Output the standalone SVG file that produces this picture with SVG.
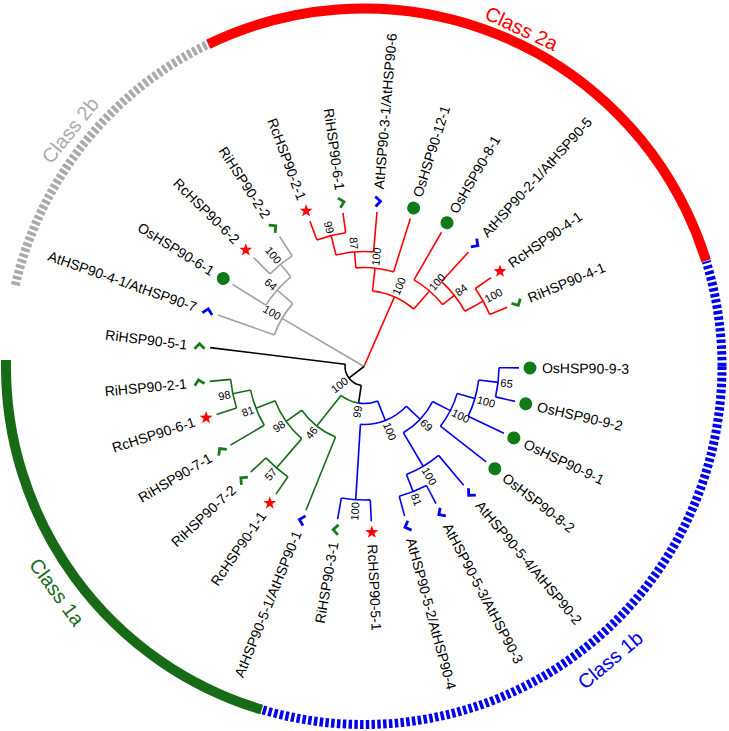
<svg xmlns="http://www.w3.org/2000/svg" width="729" height="731" viewBox="0 0 729 731">
<style>
text{font-family:"Liberation Sans",Arial,sans-serif}
.lf{font-size:14px;fill:#000}
.bs{font-size:11px;fill:#000}
.cl{font-size:20px}
.e path,.e circle{fill:none;stroke-width:1.6}
.R{stroke:#f00}.G{stroke:#a0a0a0}.K{stroke:#000}.N{stroke:#176b17}.B{stroke:#0000ee}
.mk{fill:none;stroke-width:2.8}
.ri{stroke:#1a7a1a}.at{stroke:#0000ee}
.os{fill:#107a18}.rc{fill:#f00}
</style>
<defs>
<path id="chev" d="M4.4 -3L0 2.6L-5.6 -1.8"/>
<path id="star" d="M0,-6.8 L1.6,-2.2 L6.47,-2.1 L2.58,0.84 L4,5.5 L0,2.72 L-4,5.5 L-2.58,0.84 L-6.47,-2.1 L-1.6,-2.2 Z"/>
<mask id="mgray" maskUnits="userSpaceOnUse" x="-400" y="-400" width="800" height="800">
<circle r="358" fill="none" stroke="#fff" stroke-width="24" stroke-dasharray="319.9 3000" transform="rotate(193)"/>
</mask>
<mask id="mblue" maskUnits="userSpaceOnUse" x="-400" y="-400" width="800" height="800">
<circle r="358" fill="none" stroke="#fff" stroke-width="24" stroke-dasharray="772.9 3000" transform="rotate(342.9)"/>
</mask>
</defs>
<rect width="729" height="731" fill="#fff"/>

<g id="class-arcs" transform="translate(364 366.5)" fill="none">
<circle r="358" stroke="#f00" stroke-width="10" stroke-dasharray="616 3000" transform="rotate(244.2)"/>
<circle r="358" stroke="#176b17" stroke-width="10" stroke-dasharray="464.87 3000" transform="rotate(106.6)"/>
<circle r="358" stroke="#aaaaaa" stroke-width="9" stroke-dasharray="3.5 2.3" mask="url(#mgray)"/>
<circle r="358" stroke="#0000ee" stroke-width="9" stroke-dasharray="3.5 2.3" mask="url(#mblue)"/>
<text class="cl" fill="#f00" text-anchor="middle" transform="rotate(25)" y="-366" font-size="19">Class 2a</text>
<text class="cl" fill="#aaaaaa" text-anchor="middle" transform="rotate(308.8)" y="-370">Class 2b</text>
<text class="cl" fill="#176b17" text-anchor="middle" transform="rotate(53.7)" y="388">Class 1a</text>
<text class="cl" fill="#0000ee" text-anchor="middle" transform="rotate(-40)" y="390">Class 1b</text>
</g>

<g id="connectors" class="e" transform="translate(364 366.5)">
<g class="R">
<path d="M0 0H76" transform="rotate(293.6)"/>
<circle r="76" stroke-dasharray="45.76 3000" transform="rotate(276.4)"/>
<path d="M76 0H99" transform="rotate(276.4)"/>
<path d="M76 0H100" transform="rotate(310.9)"/>
<circle r="99" stroke-dasharray="38.19 3000" transform="rotate(265.3)"/>
<path d="M99 0H115" transform="rotate(265.3)"/>
<path d="M99 0H155" transform="rotate(287.4)"/>
<circle r="115" stroke-dasharray="37.93 3000" transform="rotate(255.9)"/>
<path d="M115 0H135" transform="rotate(255.9)"/>
<path d="M115 0H155" transform="rotate(274.8)"/>
<circle r="135" stroke-dasharray="29.69 3000" transform="rotate(249.6)"/>
<path d="M135 0H155" transform="rotate(249.6)"/>
<path d="M135 0H155" transform="rotate(262.2)"/>
<circle r="100" stroke-dasharray="38.05 3000" transform="rotate(300)"/>
<path d="M100 0H155" transform="rotate(300)"/>
<path d="M100 0H115" transform="rotate(321.8)"/>
<circle r="115" stroke-dasharray="37.83 3000" transform="rotate(312.4)"/>
<path d="M115 0H155" transform="rotate(312.4)"/>
<path d="M115 0H136" transform="rotate(331.25)"/>
<circle r="136" stroke-dasharray="29.67 3000" transform="rotate(325)"/>
<path d="M136 0H155" transform="rotate(325)"/>
<path d="M136 0H155" transform="rotate(337.5)"/>
</g>
<g class="G">
<path d="M0 0H95" transform="rotate(210.4)"/>
<circle r="95" stroke-dasharray="36.48 3000" transform="rotate(199.4)"/>
<path d="M95 0H155" transform="rotate(199.4)"/>
<path d="M95 0H115.7" transform="rotate(221.4)"/>
<circle r="115.7" stroke-dasharray="37.96 3000" transform="rotate(212)"/>
<path d="M115.7 0H155" transform="rotate(212)"/>
<path d="M115.7 0H132" transform="rotate(230.8)"/>
<circle r="132" stroke-dasharray="28.57 3000" transform="rotate(224.6)"/>
<path d="M132 0H155" transform="rotate(224.6)"/>
<path d="M132 0H155" transform="rotate(237)"/>
</g>
<g class="K">
<path d="M0 0H19" transform="rotate(142.7)"/>
<circle r="19" stroke-dasharray="29.38 3000" transform="rotate(98.4)"/>
<path d="M19 0H155" transform="rotate(187)"/>
<path d="M19 0H37" transform="rotate(98.4)"/>
</g>
<g class="N">
<circle r="37" stroke-dasharray="19.37 3000" transform="rotate(98.4)"/>
<path d="M37 0H76" transform="rotate(128.4)"/>
<circle r="76" stroke-dasharray="43.57 3000" transform="rotate(112)"/>
<path d="M76 0H155" transform="rotate(112)"/>
<path d="M76 0H95.3" transform="rotate(144.85)"/>
<circle r="95.3" stroke-dasharray="46.74 3000" transform="rotate(130.8)"/>
<path d="M95.3 0H134" transform="rotate(130.8)"/>
<path d="M95.3 0H115.8" transform="rotate(158.9)"/>
<circle r="134" stroke-dasharray="29 3000" transform="rotate(124.6)"/>
<path d="M134 0H155" transform="rotate(124.6)"/>
<path d="M134 0H155" transform="rotate(137)"/>
<circle r="115.8" stroke-dasharray="37.9 3000" transform="rotate(149.5)"/>
<path d="M115.8 0H155" transform="rotate(149.5)"/>
<path d="M115.8 0H134" transform="rotate(168.25)"/>
<circle r="134" stroke-dasharray="29.23 3000" transform="rotate(162)"/>
<path d="M134 0H155" transform="rotate(162)"/>
<path d="M134 0H155" transform="rotate(174.5)"/>
</g>
<g class="B">
<circle r="37" stroke-dasharray="19.37 3000" transform="rotate(68.4)"/>
<path d="M37 0H58" transform="rotate(68.4)"/>
<circle r="58" stroke-dasharray="50.97 3000" transform="rotate(43.2)"/>
<path d="M58 0H133.5" transform="rotate(93.55)"/>
<path d="M58 0H77" transform="rotate(43.2)"/>
<circle r="133.5" stroke-dasharray="29.13 3000" transform="rotate(87.3)"/>
<path d="M133.5 0H155" transform="rotate(87.3)"/>
<path d="M133.5 0H155" transform="rotate(99.8)"/>
<circle r="77" stroke-dasharray="43.34 3000" transform="rotate(27.05)"/>
<path d="M77 0H116" transform="rotate(59.3)"/>
<path d="M77 0H97" transform="rotate(27.05)"/>
<circle r="116" stroke-dasharray="37.56 3000" transform="rotate(50)"/>
<path d="M116 0H155" transform="rotate(50)"/>
<path d="M116 0H134.4" transform="rotate(68.55)"/>
<circle r="134.4" stroke-dasharray="29.32 3000" transform="rotate(62.3)"/>
<path d="M134.4 0H155" transform="rotate(62.3)"/>
<path d="M134.4 0H155" transform="rotate(74.8)"/>
<circle r="97" stroke-dasharray="37.08 3000" transform="rotate(16.1)"/>
<path d="M97 0H155" transform="rotate(38)"/>
<path d="M97 0H115.4" transform="rotate(16.1)"/>
<circle r="115.4" stroke-dasharray="37.76 3000" transform="rotate(6.75)"/>
<path d="M115.4 0H155" transform="rotate(25.5)"/>
<path d="M115.4 0H135" transform="rotate(6.75)"/>
<circle r="135" stroke-dasharray="29.45 3000" transform="rotate(0.5)"/>
<path d="M135 0H155" transform="rotate(0.5)"/>
<path d="M135 0H155" transform="rotate(13)"/>
</g>
</g>

<g id="bootstrap" class="bs" transform="translate(364 366.5)">
<text transform="rotate(293.6)" x="78.5" dy=".35em">100</text>
<text transform="rotate(276.4)" x="101.5" dy=".35em">100</text>
<text transform="rotate(85.3)" x="-117.5" dy=".35em" text-anchor="end">87</text>
<text transform="rotate(75.9)" x="-137.5" dy=".35em" text-anchor="end">99</text>
<text transform="rotate(310.9)" x="102.5" dy=".35em">100</text>
<text transform="rotate(321.8)" x="117.5" dy=".35em">84</text>
<text transform="rotate(331.25)" x="138.5" dy=".35em">100</text>
<text transform="rotate(30.4)" x="-97.5" dy=".35em" text-anchor="end">100</text>
<text transform="rotate(41.4)" x="-118.2" dy=".35em" text-anchor="end">64</text>
<text transform="rotate(50.8)" x="-134.5" dy=".35em" text-anchor="end">100</text>
<text transform="rotate(-37.3)" x="-21.5" dy=".35em" text-anchor="end">100</text>
<text transform="rotate(-81.6)" x="-39.5" dy=".35em" text-anchor="end">99</text>
<text transform="rotate(-51.6)" x="-78.5" dy=".35em" text-anchor="end">46</text>
<text transform="rotate(-35.15)" x="-97.8" dy=".35em" text-anchor="end">98</text>
<text transform="rotate(-49.2)" x="-136.5" dy=".35em" text-anchor="end">57</text>
<text transform="rotate(-21.1)" x="-118.3" dy=".35em" text-anchor="end">81</text>
<text transform="rotate(-11.75)" x="-136.5" dy=".35em" text-anchor="end">98</text>
<text transform="rotate(68.4)" x="60.5" dy=".35em">100</text>
<text transform="rotate(-86.45)" x="-136" dy=".35em" text-anchor="end">100</text>
<text transform="rotate(43.2)" x="79.5" dy=".35em">69</text>
<text transform="rotate(59.3)" x="118.5" dy=".35em">100</text>
<text transform="rotate(68.55)" x="136.9" dy=".35em">81</text>
<text transform="rotate(27.05)" x="99.5" dy=".35em">100</text>
<text transform="rotate(16.1)" x="117.9" dy=".35em">100</text>
<text transform="rotate(6.75)" x="137.5" dy=".35em">65</text>
</g>

<g id="leaves" transform="translate(364 366.5)">
<g id="RiHSP90-5-1"><use href="#chev" class="mk ri" transform="rotate(187) translate(166 0)"/><text class="lf" transform="rotate(7)" x="-178" dy=".35em" text-anchor="end">RiHSP90-5-1</text></g>
<g id="AtHSP90-4-1"><use href="#chev" class="mk at" transform="rotate(199.4) translate(166 0)"/><text class="lf" transform="rotate(19.4)" x="-178" dy=".35em" text-anchor="end">AtHSP90-4-1/AtHSP90-7</text></g>
<g id="OsHSP90-6-1"><circle class="os" cx="166" r="6.5" transform="rotate(212)"/><text class="lf" transform="rotate(32)" x="-178" dy=".35em" text-anchor="end">OsHSP90-6-1</text></g>
<g id="RcHSP90-6-2"><use href="#star" class="rc" transform="rotate(224.6) translate(166 0) rotate(-224.6)"/><text class="lf" transform="rotate(44.6)" x="-178" dy=".35em" text-anchor="end">RcHSP90-6-2</text></g>
<g id="RiHSP90-2-2"><use href="#chev" class="mk ri" transform="rotate(237) translate(166 0)"/><text class="lf" transform="rotate(57)" x="-178" dy=".35em" text-anchor="end">RiHSP90-2-2</text></g>
<g id="RcHSP90-2-1"><use href="#star" class="rc" transform="rotate(249.6) translate(166 0) rotate(-249.6)"/><text class="lf" transform="rotate(69.6)" x="-178" dy=".35em" text-anchor="end">RcHSP90-2-1</text></g>
<g id="RiHSP90-6-1"><use href="#chev" class="mk ri" transform="rotate(262.2) translate(166 0)"/><text class="lf" transform="rotate(82.2)" x="-178" dy=".35em" text-anchor="end">RiHSP90-6-1</text></g>
<g id="AtHSP90-3-1"><use href="#chev" class="mk at" transform="rotate(274.8) translate(166 0)"/><text class="lf" transform="rotate(274.8)" x="178" dy=".35em">AtHSP90-3-1/AtHSP90-6</text></g>
<g id="OsHSP90-12-1"><circle class="os" cx="166" r="6.5" transform="rotate(287.4)"/><text class="lf" transform="rotate(287.4)" x="178" dy=".35em">OsHSP90-12-1</text></g>
<g id="OsHSP90-8-1"><circle class="os" cx="166" r="6.5" transform="rotate(300)"/><text class="lf" transform="rotate(300)" x="178" dy=".35em">OsHSP90-8-1</text></g>
<g id="AtHSP90-2-1"><use href="#chev" class="mk at" transform="rotate(312.4) translate(166 0)"/><text class="lf" transform="rotate(312.4)" x="178" dy=".35em">AtHSP90-2-1/AtHSP90-5</text></g>
<g id="RcHSP90-4-1"><use href="#star" class="rc" transform="rotate(325) translate(166 0) rotate(-325)"/><text class="lf" transform="rotate(325)" x="178" dy=".35em">RcHSP90-4-1</text></g>
<g id="RiHSP90-4-1"><use href="#chev" class="mk ri" transform="rotate(337.5) translate(166 0)"/><text class="lf" transform="rotate(337.5)" x="178" dy=".35em">RiHSP90-4-1</text></g>
<g id="OsHSP90-9-3"><circle class="os" cx="166" r="6.5" transform="rotate(0.5)"/><text class="lf" transform="rotate(0.5)" x="178" dy=".35em">OsHSP90-9-3</text></g>
<g id="OsHSP90-9-2"><circle class="os" cx="166" r="6.5" transform="rotate(13)"/><text class="lf" transform="rotate(13)" x="178" dy=".35em">OsHSP90-9-2</text></g>
<g id="OsHSP90-9-1"><circle class="os" cx="166" r="6.5" transform="rotate(25.5)"/><text class="lf" transform="rotate(25.5)" x="178" dy=".35em">OsHSP90-9-1</text></g>
<g id="OsHSP90-8-2"><circle class="os" cx="166" r="6.5" transform="rotate(38)"/><text class="lf" transform="rotate(38)" x="178" dy=".35em">OsHSP90-8-2</text></g>
<g id="AtHSP90-5-4"><use href="#chev" class="mk at" transform="rotate(50) translate(166 0)"/><text class="lf" transform="rotate(50)" x="178" dy=".35em">AtHSP90-5-4/AtHSP90-2</text></g>
<g id="AtHSP90-5-3"><use href="#chev" class="mk at" transform="rotate(62.3) translate(166 0)"/><text class="lf" transform="rotate(62.3)" x="178" dy=".35em">AtHSP90-5-3/AtHSP90-3</text></g>
<g id="AtHSP90-5-2"><use href="#chev" class="mk at" transform="rotate(74.8) translate(166 0)"/><text class="lf" transform="rotate(74.8)" x="178" dy=".35em">AtHSP90-5-2/AtHSP90-4</text></g>
<g id="RcHSP90-5-1"><use href="#star" class="rc" transform="rotate(87.3) translate(166 0) rotate(-87.3)"/><text class="lf" transform="rotate(87.3)" x="178" dy=".35em">RcHSP90-5-1</text></g>
<g id="RiHSP90-3-1"><use href="#chev" class="mk ri" transform="rotate(99.8) translate(166 0)"/><text class="lf" transform="rotate(-80.2)" x="-178" dy=".35em" text-anchor="end">RiHSP90-3-1</text></g>
<g id="AtHSP90-5-1"><use href="#chev" class="mk at" transform="rotate(112) translate(166 0)"/><text class="lf" transform="rotate(-68)" x="-178" dy=".35em" text-anchor="end">AtHSP90-5-1/AtHSP90-1</text></g>
<g id="RcHSP90-1-1"><use href="#star" class="rc" transform="rotate(124.6) translate(166 0) rotate(-124.6)"/><text class="lf" transform="rotate(-55.4)" x="-178" dy=".35em" text-anchor="end">RcHSP90-1-1</text></g>
<g id="RiHSP90-7-2"><use href="#chev" class="mk ri" transform="rotate(137) translate(166 0)"/><text class="lf" transform="rotate(-43)" x="-178" dy=".35em" text-anchor="end">RiHSP90-7-2</text></g>
<g id="RiHSP90-7-1"><use href="#chev" class="mk ri" transform="rotate(149.5) translate(166 0)"/><text class="lf" transform="rotate(-30.5)" x="-178" dy=".35em" text-anchor="end">RiHSP90-7-1</text></g>
<g id="RcHSP90-6-1"><use href="#star" class="rc" transform="rotate(162) translate(166 0) rotate(-162)"/><text class="lf" transform="rotate(-18)" x="-178" dy=".35em" text-anchor="end">RcHSP90-6-1</text></g>
<g id="RiHSP90-2-1"><use href="#chev" class="mk ri" transform="rotate(174.5) translate(166 0)"/><text class="lf" transform="rotate(-5.5)" x="-178" dy=".35em" text-anchor="end">RiHSP90-2-1</text></g>
</g>
</svg>
